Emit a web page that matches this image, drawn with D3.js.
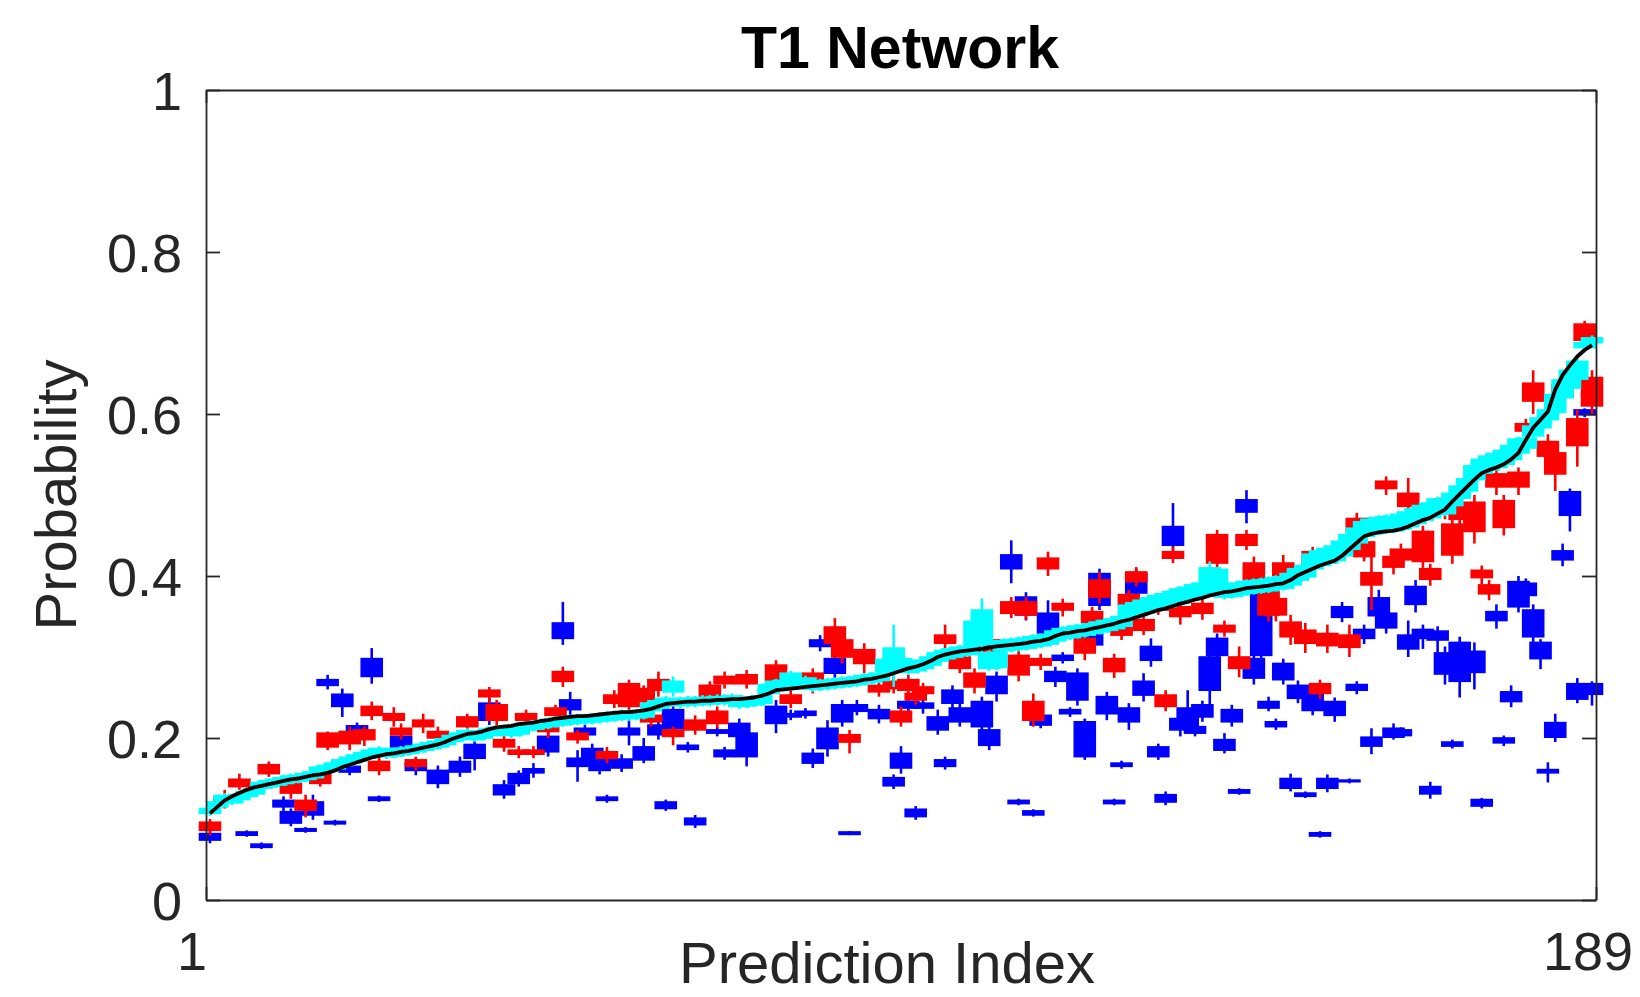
<!DOCTYPE html>
<html><head><meta charset="utf-8">
<script src="https://cdn.jsdelivr.net/npm/d3@7"></script>
<style>body{margin:0;background:#fff}</style>
</head><body>
<svg id="c" width="1640" height="997"></svg>
<script>
// ---------- DATA ----------
const titleText = "T1 Network";
const xLabelText = "Prediction Index";
const yLabelText = "Probability";
const xTicks = [1, 189];
const yTicks = [0, 0.2, 0.4, 0.6, 0.8, 1];

// black line: sorted median per prediction index (1..189)
const blackMed = [
.107,.115,.123,.128,.132,.136,.139,.141,.143,.145,
.147,.149,.150,.152,.154,.155,.157,.160,.164,.167,
.170,.173,.176,.178,.180,.181,.183,.184,.186,.188,
.190,.192,.195,.199,.202,.205,.206,.208,.211,.213,
.214,.215,.217,.218,.219,.221,.222,.224,.225,.226,
.227,.227,.228,.229,.230,.231,.232,.232,.233,.234,
.236,.239,.242,.243,.244,.245,.245,.246,.246,.247,
.247,.248,.248,.249,.250,.252,.255,.259,.260,.261,
.262,.263,.264,.265,.266,.267,.268,.269,.270,.272,
.273,.275,.277,.280,.283,.286,.288,.291,.295,.300,
.303,.305,.307,.308,.309,.310,.312,.313,.314,.315,
.316,.317,.319,.320,.322,.326,.329,.330,.332,.333,
.335,.337,.339,.341,.344,.346,.349,.352,.355,.358,
.360,.363,.366,.368,.371,.373,.376,.378,.380,.381,
.383,.385,.386,.387,.388,.390,.391,.395,.401,.405,
.409,.413,.416,.419,.425,.433,.441,.449,.452,.454,
.455,.456,.458,.461,.465,.469,.472,.477,.482,.492,
.501,.510,.519,.527,.531,.534,.538,.544,.552,.568,
.583,.593,.603,.630,.648,.660,.671,.679,.685];

// cyan boxes: lower / upper box edge relative to black median (thousandths), whisker extension (thousandths)
const cyanLo = [
0,0,0,-8,-8,-8,-8,-3,-3,-3,
-3,-3,-3,-3,-3,2,2,2,2,2,
2,2,2,2,-3,-3,-3,-3,-3,-3,
-3,-3,-3,-3,-3,-3,-8,-8,-8,-8,
-8,-12,-12,-8,-8,-8,-8,-8,-8,-8,
-8,-8,-8,-8,-8,-8,-8,-8,-8,-8,
-2,-2,-2,14,-4,-4,-4,-4,-4,-4,
-4,-4,-9,-9,-9,-9,0,0,0,9,
0,0,-4,-4,-4,-4,-4,-4,-4,-4,
-4,-4,5,12,5,-5,-5,-5,-5,-5,
-5,-5,-5,-5,5,5,-26,-26,-6,-6,
-6,-6,-6,-6,-6,-6,-6,-6,-6,-6,
-6,-6,-6,-6,-6,2,2,2,2,2,
2,2,2,2,2,2,9,9,-6,-6,
-6,-6,-6,-6,-6,-6,-6,-6,-6,-6,
0,0,0,0,0,0,0,0,0,0,
0,0,0,0,0,0,0,0,-5,-5,
-5,-5,0,0,0,0,0,0,0,-10,
-10,-10,-10,-28,-28,-28,-28,3,3];
const cyanHi = [
6,6,6,-2,-2,-2,-2,4,4,4,
4,4,4,4,4,9,9,9,9,9,
9,9,9,9,4,4,4,4,4,4,
4,4,4,4,4,4,0,0,0,0,
0,-3,-3,0,0,0,0,0,0,0,
0,0,0,0,0,0,0,0,0,0,
7,7,7,27,4,4,4,4,4,4,
4,4,0,0,0,0,11,11,11,19,
11,11,5,5,5,5,5,5,5,5,
5,5,20,31,15,5,5,5,5,5,
5,5,5,5,35,48,-7,-7,6,6,
6,6,6,6,6,6,6,6,6,6,
6,6,6,6,6,18,18,18,18,18,
18,18,18,18,18,18,34,30,8,8,
8,8,8,8,8,8,8,8,8,8,
18,18,18,18,18,18,18,18,18,18,
18,18,18,18,18,18,18,18,10,10,
10,10,17,17,17,17,17,17,17,2,
2,2,2,-6,-6,-6,-6,9,9];
const cyanW = [
3,3,3,3,3,3,3,3,3,3,
3,3,3,3,3,3,3,3,3,3,
3,3,3,3,3,3,3,3,3,3,
3,3,3,3,3,3,3,3,3,3,
3,3,3,3,3,3,3,3,3,3,
3,3,3,3,3,3,3,3,3,3,
3,3,3,6,3,3,3,3,3,3,
3,3,3,3,3,3,3,3,3,3,
3,3,3,3,3,3,3,3,3,3,
3,3,10,29,3,3,3,3,3,3,
3,3,3,3,10,14,3,3,3,3,
3,3,3,3,3,3,3,3,3,3,
3,3,3,3,3,3,3,3,3,3,
3,3,3,3,3,3,8,3,3,3,
3,3,3,3,3,3,3,3,3,3,
3,3,3,3,3,3,3,3,3,3,
3,3,3,3,3,3,3,3,3,3,
3,3,3,3,3,3,3,3,3,3,
3,3,3,3,3,3,3,3,3];

// red boxes: [index, q1, q3, whiskerLow, whiskerHigh]
const redBoxes = [
[1,.086,.096,.080,.100],[3,.122,.127,.113,.136],[5,.140,.149,.136,.156],[9,.156,.167,.152,.171],
[12,.132,.144,.125,.152],[14,.111,.123,.102,.130],[16,.144,.156,.140,.163],[17,.189,.206,.185,.208],
[20,.193,.208,.185,.214],[22,.198,.210,.190,.214],[23,.228,.239,.222,.245],[24,.160,.171,.154,.177],
[26,.222,.230,.214,.238],[27,.204,.212,.198,.218],[29,.165,.173,.160,.177],[30,.214,.222,.206,.230],
[32,.200,.208,.195,.214],[36,.214,.226,.210,.230],[39,.251,.259,.243,.263],[40,.222,.241,.214,.247],
[41,.189,.198,.183,.204],[43,.180,.185,.175,.190],[44,.222,.230,.216,.235],[45,.180,.185,.175,.190],
[47,.208,.214,.200,.218],[48,.228,.237,.222,.241],[49,.270,.282,.263,.288],[51,.198,.206,.193,.210],
[55,.175,.183,.169,.189],[56,.243,.253,.237,.259],[58,.239,.267,.230,.272],[60,.245,.261,.239,.265],
[61,.220,.228,.214,.233],[62,.259,.272,.251,.282],[64,.202,.210,.191,.214],[67,.210,.222,.204,.228],
[69,.251,.265,.245,.270],[70,.218,.233,.212,.239],[71,.267,.276,.261,.282],[74,.267,.278,.261,.284],
[78,.270,.290,.263,.296],[80,.243,.253,.237,.259],[83,.263,.280,.255,.286],[86,.317,.337,.309,.348],
[87,.300,.321,.292,.327],[88,.195,.204,.181,.210],[90,.292,.309,.280,.317],[92,.257,.265,.251,.270],
[94,.261,.270,.255,.276],[95,.220,.233,.214,.239],[96,.259,.272,.251,.278],[97,.247,.255,.241,.261],
[98,.255,.263,.249,.268],[101,.317,.327,.307,.340],[103,.286,.300,.280,.307],[105,.263,.280,.255,.286],
[107,.307,.321,.300,.327],[110,.354,.368,.348,.374],[111,.278,.302,.270,.309],[112,.352,.368,.346,.374],
[113,.222,.245,.214,.255],[114,.290,.298,.284,.304],[115,.409,.422,.400,.430],[117,.358,.366,.350,.372],
[120,.305,.323,.296,.333],[121,.342,.356,.335,.362],[122,.374,.395,.366,.405],[124,.282,.298,.274,.304],
[125,.327,.337,.321,.343],[126,.364,.377,.356,.383],[127,.393,.405,.387,.411],[128,.333,.346,.327,.352],
[130,.358,.368,.352,.374],[131,.239,.253,.233,.259],[132,.422,.430,.416,.436],[133,.350,.362,.340,.370],
[136,.354,.366,.346,.374],[138,.416,.451,.410,.457],[139,.331,.339,.325,.345],[141,.286,.300,.275,.313],
[142,.438,.451,.432,.457],[143,.391,.416,.383,.424],[145,.352,.381,.344,.389],[146,.352,.372,.344,.380],
[147,.395,.416,.387,.426],[148,.325,.343,.315,.352],[150,.317,.333,.305,.342],[151,.415,.430,.408,.436],
[152,.255,.267,.248,.272],[153,.314,.329,.305,.340],[156,.312,.327,.300,.340],[157,.455,.471,.448,.478],
[158,.424,.442,.418,.450],[159,.389,.404,.358,.442],[161,.508,.517,.500,.523],[162,.411,.424,.402,.432],
[163,.420,.433,.412,.440],[164,.486,.502,.474,.521],[166,.418,.455,.410,.462],[167,.396,.409,.388,.415],
[169,.477,.495,.470,.502],[170,.426,.464,.415,.472],[171,.470,.490,.462,.498],[173,.455,.491,.440,.500],
[174,.398,.407,.390,.413],[175,.378,.389,.370,.395],[176,.510,.526,.500,.532],[177,.460,.493,.450,.500],
[179,.510,.528,.500,.534],[180,.579,.588,.572,.594],[181,.616,.638,.600,.654],[183,.548,.566,.540,.575],
[184,.526,.552,.505,.560],[185,.621,.636,.610,.648],[187,.561,.594,.535,.605],[188,.691,.711,.688,.715],
[189,.610,.645,.600,.654]];

// blue boxes: [index, q1, q3, whiskerLow, whiskerHigh]
const blueBoxes = [
[1,.074,.082,.070,.086],[6,.080,.084,.078,.086],[8,.065,.069,.063,.071],[11,.115,.123,.107,.128],
[12,.095,.109,.091,.113],[14,.085,.088,.083,.090],[15,.105,.121,.099,.130],[17,.265,.272,.260,.278],
[18,.094,.097,.092,.099],[19,.239,.254,.226,.261],[20,.158,.165,.154,.169],[21,.208,.215,.204,.219],
[23,.276,.298,.267,.311],[24,.123,.127,.121,.129],[27,.189,.202,.183,.208],[29,.160,.169,.154,.175],
[32,.144,.160,.138,.166],[35,.158,.171,.152,.177],[37,.175,.192,.160,.206],[39,.222,.243,.216,.249],
[41,.130,.142,.125,.148],[43,.144,.156,.140,.160],[45,.157,.162,.151,.169],[47,.183,.202,.177,.208],
[49,.323,.342,.315,.368],[50,.235,.247,.218,.257],[51,.165,.175,.146,.185],[52,.204,.212,.198,.216],
[53,.175,.187,.170,.193],[54,.160,.173,.155,.178],[55,.123,.127,.120,.130],[57,.163,.174,.158,.180],
[58,.204,.212,.191,.226],[60,.173,.189,.169,.200],[62,.204,.216,.198,.222],[63,.113,.121,.110,.124],
[64,.212,.235,.206,.241],[66,.186,.191,.182,.195],[67,.093,.101,.089,.105],[70,.206,.210,.202,.214],
[71,.177,.185,.173,.189],[73,.202,.218,.196,.224],[74,.177,.206,.165,.218],[78,.218,.239,.206,.247],
[80,.226,.230,.222,.235],[82,.228,.233,.224,.237],[83,.169,.181,.163,.187],[84,.313,.321,.307,.327],
[85,.187,.212,.177,.222],[86,.280,.298,.272,.305],[87,.220,.241,.214,.247],[88,.081,.084,.080,.085],
[89,.233,.241,.228,.247],[92,.224,.235,.218,.241],[94,.141,.151,.137,.155],[95,.163,.181,.156,.190],
[96,.237,.245,.230,.250],[97,.103,.112,.099,.116],[98,.237,.243,.230,.247],[100,.210,.226,.204,.235],
[101,.165,.173,.161,.177],[102,.243,.259,.237,.265],[103,.220,.237,.214,.243],[106,.214,.245,.206,.251],
[107,.191,.210,.185,.220],[108,.255,.276,.245,.282],[110,.409,.426,.391,.444],[111,.119,.123,.117,.125],
[112,.352,.374,.345,.380],[113,.105,.110,.103,.112],[114,.216,.228,.212,.233],[115,.329,.354,.320,.370],
[116,.270,.282,.263,.288],[117,.296,.302,.292,.306],[118,.230,.235,.226,.238],[119,.247,.280,.240,.286],
[120,.177,.220,.173,.224],[121,.315,.329,.309,.335],[122,.364,.403,.358,.409],[123,.230,.251,.222,.257],
[124,.119,.123,.117,.125],[125,.165,.169,.162,.172],[126,.220,.237,.210,.243],[127,.379,.403,.372,.409],
[128,.253,.270,.245,.280],[129,.296,.313,.288,.323],[130,.177,.189,.173,.193],[131,.121,.130,.117,.134],
[132,.438,.461,.432,.490],[133,.210,.224,.202,.230],[134,.214,.237,.206,.259],[135,.206,.214,.202,.218],
[136,.226,.241,.220,.246],[137,.259,.300,.237,.306],[138,.302,.323,.296,.329],[139,.185,.198,.181,.206],
[140,.220,.235,.214,.241],[141,.132,.136,.130,.138],[142,.479,.494,.465,.506],[143,.274,.298,.266,.306],
[144,.302,.377,.296,.383],[145,.237,.245,.233,.251],[146,.214,.220,.210,.224],[147,.272,.292,.266,.298],
[148,.138,.150,.134,.156],[149,.249,.265,.243,.271],[150,.128,.132,.126,.134],[151,.234,.262,.228,.268],
[152,.079,.083,.077,.085],[153,.138,.150,.133,.155],[154,.228,.245,.220,.250],[155,.349,.362,.343,.368],
[156,.146,.148,.144,.150],[157,.259,.266,.254,.270],[158,.323,.334,.316,.340],[159,.190,.201,.180,.212],
[160,.351,.373,.340,.383],[161,.336,.354,.329,.360],[162,.201,.212,.198,.218],[163,.203,.210,.200,.213],
[164,.310,.327,.300,.345],[165,.365,.387,.355,.395],[166,.323,.334,.310,.340],[167,.131,.140,.125,.146],
[168,.321,.332,.305,.338],[169,.279,.305,.266,.313],[170,.190,.195,.187,.198],[171,.270,.318,.250,.325],
[173,.281,.307,.260,.318],[174,.116,.124,.113,.126],[176,.345,.356,.335,.365],[177,.194,.200,.190,.203],
[178,.245,.257,.238,.265],[179,.362,.393,.355,.400],[180,.376,.391,.370,.397],[181,.325,.358,.316,.365],
[182,.298,.318,.285,.322],[183,.157,.161,.145,.170],[184,.201,.219,.195,.230],[185,.420,.431,.412,.440],
[186,.475,.504,.455,.508],[187,.248,.267,.243,.274],[188,.599,.605,.596,.607],[189,.254,.267,.240,.270]];

// ---------- CHART ----------
const svg = d3.select("#c");
const FONT = "'Liberation Sans', Arial, Helvetica, sans-serif";
const AX = "#262626";

const y = d3.scaleLinear().domain([0, 1]).range([900, 90]);
const xAxisScale = d3.scaleLinear().domain([1, 189]).range([206, 1596]);
const xBox = d3.scaleLinear().domain([1, 189]).range([210, 1592]);
const xLab = d3.scaleLinear().domain([1, 189]).range([192, 1588]);

const cyanBoxes = blackMed.map((m, k) => [
  k + 1,
  m + cyanLo[k] / 1000,
  m + cyanHi[k] / 1000,
  m + (cyanLo[k] - cyanW[k]) / 1000,
  m + (cyanHi[k] + cyanW[k]) / 1000
]);

function drawBoxes(rows, color, cls) {
  const g = svg.append("g").attr("class", cls);
  g.selectAll("line").data(rows).join("line")
    .attr("x1", d => xBox(d[0])).attr("x2", d => xBox(d[0]))
    .attr("y1", d => y(d[3])).attr("y2", d => y(d[4]))
    .attr("stroke", color).attr("stroke-width", 2.6);
  g.selectAll("rect").data(rows).join("rect")
    .attr("x", d => xBox(d[0]) - 10.5).attr("width", 21)
    .attr("y", d => y(d[2]))
    .attr("height", d => Math.max(0, y(d[1]) - y(d[2])))
    .attr("fill", color).attr("stroke", color).attr("stroke-width", 1.6);
}

drawBoxes(blueBoxes, "#0000ff", "blue");
drawBoxes(redBoxes, "#ff0000", "red");
drawBoxes(cyanBoxes, "#00ffff", "cyan");

svg.append("path")
  .datum(blackMed)
  .attr("fill", "none").attr("stroke", "#000").attr("stroke-width", 3.8)
  .attr("stroke-linejoin", "round")
  .attr("d", d3.line().x((d, k) => xBox(k + 1)).y(d => y(d)));

// axes
const fmtY = d => (d === 0 ? "0" : d === 1 ? "1" : d.toFixed(1));
function styleAxis(g) {
  g.selectAll("path").attr("stroke", AX).attr("stroke-width", 1.8);
  g.selectAll("line").attr("stroke", AX).attr("stroke-width", 1.8);
  g.selectAll("text").attr("font-family", FONT).attr("font-size", 54).attr("fill", AX);
}
svg.append("g").attr("transform", "translate(206,0)")
  .call(d3.axisLeft(y).tickValues(yTicks).tickSizeInner(-14).tickSizeOuter(0).tickPadding(24).tickFormat(fmtY))
  .call(styleAxis)
  .call(g => g.selectAll("text").attr("dy", "0.36em"));
svg.append("g").attr("transform", "translate(1596,0)")
  .call(d3.axisRight(y).tickValues(yTicks).tickSizeInner(-14).tickSizeOuter(0).tickFormat(""))
  .call(styleAxis);
svg.append("g").attr("transform", "translate(0,900)")
  .call(d3.axisBottom(xAxisScale).tickValues(xTicks).tickSizeInner(-13).tickSizeOuter(0).tickFormat(""))
  .call(styleAxis);
svg.append("g").attr("transform", "translate(0,90)")
  .call(d3.axisTop(xAxisScale).tickValues(xTicks).tickSizeInner(-13).tickSizeOuter(0).tickFormat(""))
  .call(styleAxis);

svg.append("g").selectAll("text").data(xTicks).join("text")
  .attr("x", d => xLab(d)).attr("y", 970)
  .attr("text-anchor", "middle")
  .attr("font-family", FONT).attr("font-size", 54).attr("fill", AX)
  .text(d => d);

// labels & title
svg.append("text").attr("x", 887).attr("y", 983).attr("text-anchor", "middle")
  .attr("font-family", FONT).attr("font-size", 58).attr("fill", AX).text(xLabelText);
svg.append("text").attr("transform", "translate(76,495) rotate(-90)").attr("text-anchor", "middle")
  .attr("font-family", FONT).attr("font-size", 58).attr("fill", AX).text(yLabelText);
svg.append("text").attr("x", 900).attr("y", 68).attr("text-anchor", "middle")
  .attr("font-family", FONT).attr("font-size", 59).attr("font-weight", "bold").attr("fill", "#000").text(titleText);
</script>
</body></html>
